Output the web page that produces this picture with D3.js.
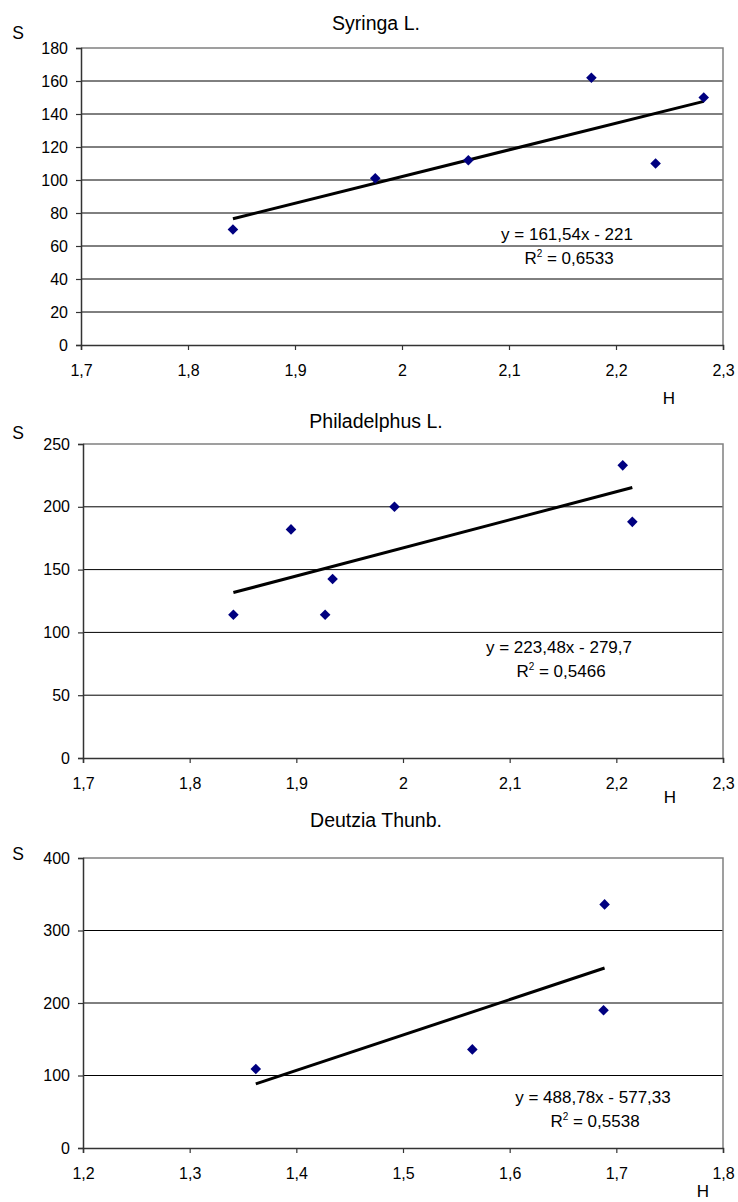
<!DOCTYPE html>
<html>
<head>
<meta charset="utf-8">
<script src="https://cdn.jsdelivr.net/npm/d3@7"></script>
<style>
  body { margin: 0; background: #fff; }
  svg { display: block; font-family: Arial, "Liberation Sans", sans-serif; }
  .tick text { font-size: 16px; fill: #000; }
</style>
</head>
<body>
<div id="graph"></div>
<script>
// values
const titles = ["Syringa L.", "Philadelphus L.", "Deutzia Thunb."];
const syringaH = [1.842, 1.975, 2.062, 2.177, 2.237, 2.282];
const syringaS = [70, 101, 112, 162, 110, 150];
const philH = [1.841, 1.895, 1.927, 1.934, 1.992, 2.206, 2.215];
const philS = [114, 182, 114, 142.5, 200, 233, 188];
const deutziaH = [1.362, 1.565, 1.688, 1.689];
const deutziaS = [109, 136, 190, 336];
const slopes = [161.54, 223.48, 488.78];
const intercepts = [-221, -279.7, -577.33];
const eqLabels = ["y = 161,54x - 221", "y = 223,48x - 279,7", "y = 488,78x - 577,33"];
const r2Labels = ["0,6533", "0,5466", "0,5538"];
const xDomains = [[1.7, 2.3], [1.7, 2.3], [1.2, 1.8]];
const yDomains = [[0, 180], [0, 250], [0, 400]];
const yTickSteps = [20, 50, 100];

const w = 738;
const h = 1202;
// pixel layout of each panel
const panels = [
  { left: 81, right: 723, top: 48, bottom: 345, titleY: 30, sY: 39, hX: 669, hY: 404, eqX: 567, eqY: 240 },
  { left: 83, right: 723, top: 444, bottom: 758, titleY: 428, sY: 439, hX: 670, hY: 803, eqX: 559, eqY: 653 },
  { left: 83, right: 723, top: 858, bottom: 1148, titleY: 827, sY: 860, hX: 703, hY: 1197, eqX: 593, eqY: 1103 },
];
const series = [[syringaH, syringaS], [philH, philS], [deutziaH, deutziaS]];

const ru = d3.formatLocale({ decimal: ",", thousands: " ", grouping: [3], currency: ["", ""] });
const fmt = ru.format("");

const svg = d3.select("#graph").append("svg").attr("width", w).attr("height", h);

panels.forEach((p, i) => {
  const xs = series[i][0];
  const ys = series[i][1];
  const x = d3.scaleLinear().domain(xDomains[i]).range([p.left, p.right]);
  const y = d3.scaleLinear().domain(yDomains[i]).range([p.bottom, p.top]);
  const yTicks = d3.range(yDomains[i][0], yDomains[i][1] + 1e-9, yTickSteps[i]);
  const g = svg.append("g");

  // grid lines
  g.append("g")
    .selectAll("line")
    .data(yTicks.slice(1, -1))
    .enter()
    .append("line")
    .attr("x1", p.left)
    .attr("x2", p.right)
    .attr("y1", (d) => y(d))
    .attr("y2", (d) => y(d))
    .attr("stroke", "#000")
    .attr("stroke-width", 1);

  // frame top/right
  g.append("path")
    .attr("d", `M${p.left},${y(yDomains[i][1])}H${p.right}V${p.bottom}`)
    .attr("fill", "none")
    .attr("stroke", "#808080")
    .attr("stroke-width", 1.5);

  const yAxis = g
    .append("g")
    .attr("transform", `translate(${p.left},0)`)
    .call(d3.axisLeft(y).tickValues(yTicks).tickSize(5).tickPadding(8).tickFormat(fmt));
  const xAxis = g
    .append("g")
    .attr("transform", `translate(0,${p.bottom})`)
    .call(d3.axisBottom(x).ticks(6).tickSize(5).tickPadding(15).tickFormat(fmt));
  [yAxis, xAxis].forEach((a) => {
    a.select(".domain").attr("stroke", "#333").attr("stroke-width", 1.5);
    a.selectAll(".tick line").attr("stroke", "#333").attr("stroke-width", 1.2);
    a.attr("font-family", null).attr("font-size", null);
  });

  // trend line
  const x0 = d3.min(xs);
  const x1 = d3.max(xs);
  g.append("line")
    .attr("x1", x(x0))
    .attr("y1", y(slopes[i] * x0 + intercepts[i]))
    .attr("x2", x(x1))
    .attr("y2", y(slopes[i] * x1 + intercepts[i]))
    .attr("stroke", "#000")
    .attr("stroke-width", 3);

  // points
  g.append("g")
    .selectAll("path")
    .data(xs.map((d, j) => [d, ys[j]]))
    .enter()
    .append("path")
    .attr("d", d3.symbol(d3.symbolSquare, 56))
    .attr("transform", (d) => `translate(${x(d[0])},${y(d[1])}) rotate(45)`)
    .attr("fill", "#000080");

  // texts
  g.append("text")
    .attr("x", 376)
    .attr("y", p.titleY)
    .attr("text-anchor", "middle")
    .attr("font-size", 19.5)
    .text(titles[i]);
  g.append("text").attr("x", 18).attr("y", p.sY).attr("text-anchor", "middle").attr("font-size", 17.5).text("S");
  g.append("text").attr("x", p.hX).attr("y", p.hY).attr("text-anchor", "middle").attr("font-size", 17).text("H");
  g.append("text")
    .attr("x", p.eqX)
    .attr("y", p.eqY)
    .attr("text-anchor", "middle")
    .attr("font-size", 17)
    .text(eqLabels[i]);
  const r2 = g.append("text")
    .attr("x", p.eqX + 2)
    .attr("y", p.eqY + 24)
    .attr("text-anchor", "middle")
    .attr("font-size", 17);
  r2.append("tspan").text("R");
  r2.append("tspan").attr("font-size", 10).attr("dy", -7).text("2");
  r2.append("tspan").attr("dy", 7).text(" = " + r2Labels[i]);
});
</script>
</body>
</html>
